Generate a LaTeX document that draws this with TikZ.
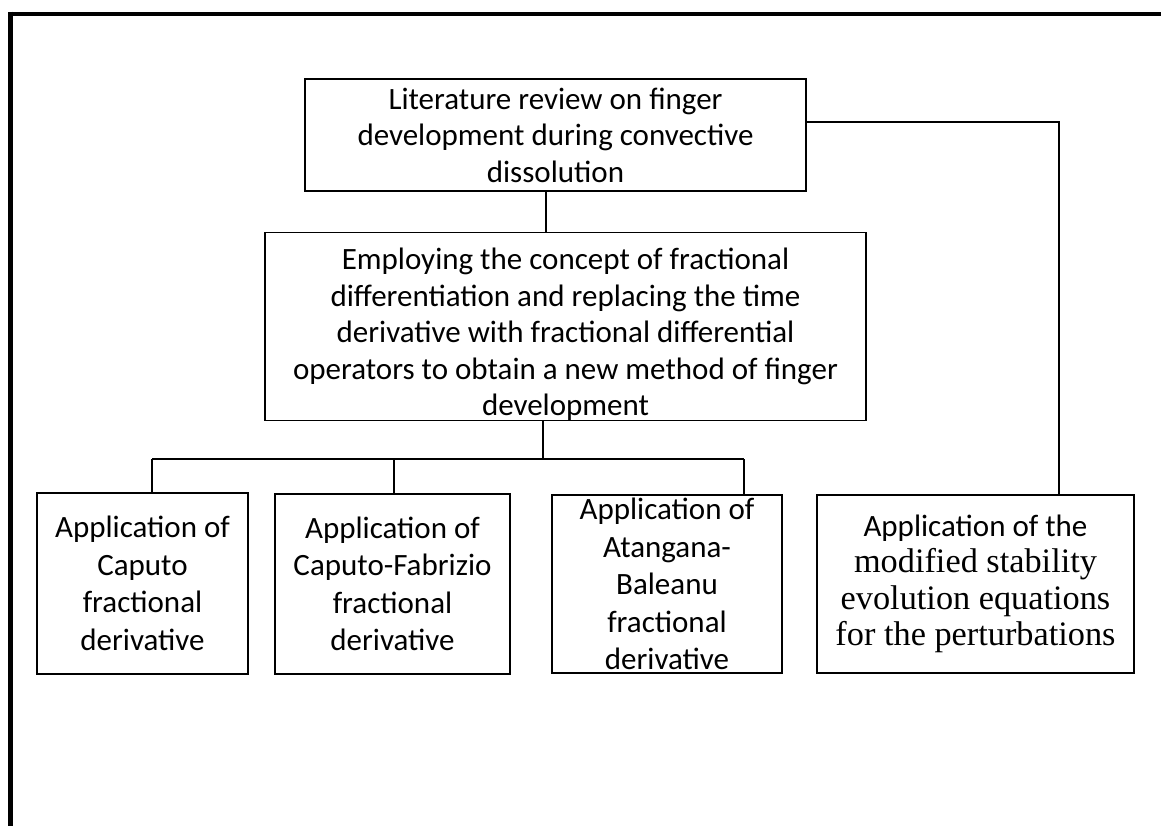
\documentclass[tikz,border=0pt]{standalone}
\usepackage{fontspec}
\setmainfont{Carlito}
\newfontfamily\serifbox{Liberation Serif}
\newcommand{\serl}{\serifbox\fontsize{34.3pt}{35.7pt}\selectfont}
\begin{document}
\begin{tikzpicture}[x=1pt,y=-1pt,
  box/.style={draw, line width=1.8pt, rectangle, inner sep=0pt, align=center,
    font=\fontsize{31pt}{36.5pt}\selectfont},
  lowbox/.style={box, font=\fontsize{31pt}{37.5pt}\selectfont},
  link/.style={line width=1.8pt},
  frame/.style={line width=4.6pt}]
\useasboundingbox (0,0) rectangle (1161,826);
% frame lines
\coordinate (f0) at (8,14);
\coordinate (f1) at (1161,14);
\coordinate (f2) at (10.3,826);
\draw[frame] (f0) -- (f1);
\draw[frame] (10.3,11.7) -- (f2);
% nodes
\node[box, minimum width=501, minimum height=112] (top) at (555.5,135)
  {Literature review on finger\\development during convective\\dissolution};
\node[box, minimum width=601, minimum height=185] (mid) at (565.5,326.5)
  {\rule{0pt}{37pt}Employing the concept of fractional\\differentiation and replacing the time\\derivative with fractional differential\\operators to obtain a new method of finger\\development};
\node[lowbox, minimum width=211, minimum height=181] (b1) at (142.5,583.5)
  {Application of\\Caputo\\fractional\\derivative};
\node[lowbox, minimum width=235, minimum height=180] (b2) at (392.5,584)
  {Application of\\Caputo-Fabrizio\\fractional\\derivative};
\node[lowbox, minimum width=230, minimum height=178] (b3) at (667,584)
  {Application of\\Atangana-\\Baleanu\\fractional\\derivative};
\node[box, minimum width=317, minimum height=178] (b4) at (975.5,584)
  {Application of the\\{\serl modified stability}\\{\serl evolution equations}\\{\serl for the perturbations}};
% connectors
\coordinate (j1) at (546,0);
\draw[link] (top.south -| j1) -- (mid.north -| j1);
\coordinate (bus) at (543,459);
\coordinate (d1) at (152,459);
\coordinate (d2) at (394,459);
\coordinate (d3) at (744,459);
\draw[link] (mid.south -| bus) -- (bus);
\draw[link] (d1) -- (d3);
\draw[link] (d1) -- (b1.north -| d1);
\draw[link] (d2) -- (b2.north -| d2);
\draw[link] (d3) -- (b3.north -| d3);
\coordinate (r) at (1059,122);
\draw[link] (top.east |- r) -- (r) -- (b4.north -| r);
\end{tikzpicture}
\end{document}
